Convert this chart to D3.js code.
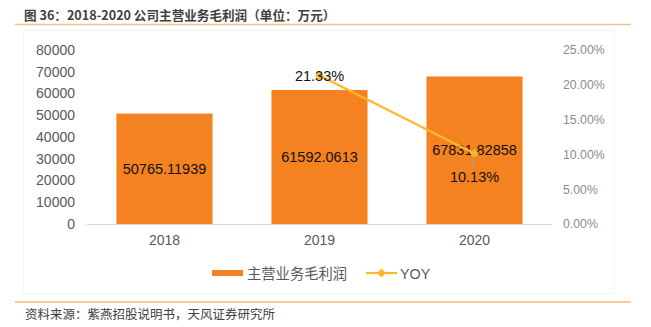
<!DOCTYPE html>
<html><head><meta charset="utf-8">
<script src="https://cdn.jsdelivr.net/npm/d3@7"></script>
<style>body{margin:0;background:#fff}svg{display:block}</style>
</head><body><svg id="c" width="651" height="327"></svg>
<script>
const categories = ["2018", "2019", "2020"];
const grossProfit = [50765.11939, 61592.0613, 67831.82858];
const grossLabels = ["50765.11939", "61592.0613", "67831.82858"];
const yoyCats = ["2019", "2020"];
const yoyValues = [0.2133, 0.1013];
const yoyLabels = ["21.33%", "10.13%"];
const leftTicks = [0, 10000, 20000, 30000, 40000, 50000, 60000, 70000, 80000];
const rightTicks = [0, 0.05, 0.10, 0.15, 0.20, 0.25];
const titleText = "图 36：2018-2020 公司主营业务毛利润（单位：万元）";
const sourceText = "资料来源：紫燕招股说明书，天风证券研究所";
const legendNames = ["主营业务毛利润", "YOY"];

const svg = d3.select("#c");
const font = "'Liberation Sans', Arial, sans-serif";
const cjk = "'Noto Sans CJK SC', sans-serif";

// title
svg.append("text").attr("x", 24).attr("y", 19.5).attr("font-family", cjk).attr("font-size", 12.6)
  .attr("font-weight", "bold").attr("fill", "#404040").text(titleText);
svg.append("line").attr("x1", 15).attr("x2", 631).attr("y1", 24.5).attr("y2", 24.5)
  .attr("stroke", "#fbc08a").attr("stroke-width", 1.5);

// faint chart area border
svg.append("rect").attr("x", 23.5).attr("y", 30.5).attr("width", 591).attr("height", 263)
  .attr("fill", "none").attr("stroke", "#f4f4f4").attr("stroke-width", 1);

const x = d3.scaleBand().domain(categories).range([87, 552]).paddingInner(0.38).paddingOuter(0.19);
const y = d3.scaleLinear().domain([0, 80000]).range([224, 50]);
const y2 = d3.scaleLinear().domain([0, 0.25]).range([224, 50]);

// left axis
const la = svg.append("g").attr("transform", "translate(75,0)")
  .call(d3.axisLeft(y).tickValues(leftTicks).tickSize(0).tickPadding(0).tickFormat(d3.format("d")));
la.select(".domain").remove();
la.selectAll("text").attr("font-family", font).attr("font-size", 14).attr("fill", "#595959");

// right axis
const ra = svg.append("g").attr("transform", "translate(563,0)")
  .call(d3.axisRight(y2).tickValues(rightTicks).tickSize(0).tickPadding(0).tickFormat(d3.format(".2%")));
ra.select(".domain").remove();
ra.selectAll("text").attr("font-family", font).attr("font-size", 12.3).attr("fill", "#8c8c8c");

// bars
svg.selectAll("rect.bar").data(categories).join("rect").attr("class", "bar")
  .attr("x", d => x(d)).attr("width", x.bandwidth())
  .attr("y", (d, i) => y(grossProfit[i])).attr("height", (d, i) => y(0) - y(grossProfit[i]))
  .attr("fill", "#f58220");

// baseline
svg.append("line").attr("x1", 87).attr("x2", 552).attr("y1", 224.5).attr("y2", 224.5)
  .attr("stroke", "#d9d9d9").attr("stroke-width", 1);

// x axis labels
const xa = svg.append("g").attr("transform", "translate(0,224)")
  .call(d3.axisBottom(x).tickSize(0).tickPadding(11));
xa.select(".domain").remove();
xa.selectAll("text").attr("font-family", font).attr("font-size", 14).attr("fill", "#595959");

// bar labels
svg.selectAll("text.bl").data(categories).join("text").attr("class", "bl")
  .attr("x", d => x(d) + x.bandwidth() / 2)
  .attr("y", (d, i) => (y(grossProfit[i]) + y(0)) / 2 + 5)
  .attr("text-anchor", "middle").attr("font-family", font).attr("font-size", 14.5).attr("fill", "#111")
  .text((d, i) => grossLabels[i]);

// YOY line
const cx = d => x(d) + x.bandwidth() / 2;
const pts = yoyCats.map((c, i) => [cx(c), y2(yoyValues[i])]);
svg.append("path").attr("d", d3.line()(pts)).attr("fill", "none").attr("stroke", "#fbb829").attr("stroke-width", 2.2);
svg.selectAll("path.mk").data(pts).join("path").attr("class", "mk")
  .attr("transform", p => `translate(${p[0]},${p[1]})`)
  .attr("d", d3.symbol(d3.symbolDiamond2, 50)).attr("fill", "#fbb829");

// leader line for 2020 label
svg.append("line").attr("x1", pts[1][0]).attr("x2", pts[1][0] - 1.5).attr("y1", pts[1][1] + 2).attr("y2", pts[1][1] + 13)
  .attr("stroke", "#a6a6a6").attr("stroke-width", 1);

// YOY labels
const yoyLabelPos = [[0, 5], [0, 29]];
svg.selectAll("text.yl").data(pts).join("text").attr("class", "yl")
  .attr("x", p => p[0]).attr("y", (p, i) => p[1] + yoyLabelPos[i][1])
  .attr("text-anchor", "middle").attr("font-family", font).attr("font-size", 14.5).attr("fill", "#111")
  .text((p, i) => yoyLabels[i]);

// legend
const lg = svg.append("g");
lg.append("rect").attr("x", 212).attr("y", 270).attr("width", 31).attr("height", 6).attr("fill", "#f58220");
lg.append("text").attr("x", 247).attr("y", 278.5).attr("font-family", cjk).attr("font-size", 14.3)
  .attr("fill", "#595959").text(legendNames[0]);
lg.append("line").attr("x1", 366).attr("x2", 397).attr("y1", 273).attr("y2", 273).attr("stroke", "#fbb829").attr("stroke-width", 2.2);
lg.append("path").attr("transform", "translate(381.5,273)").attr("d", d3.symbol(d3.symbolDiamond2, 50)).attr("fill", "#fbb829");
lg.append("text").attr("x", 400).attr("y", 278.5).attr("font-family", font).attr("font-size", 14.3)
  .attr("fill", "#595959").text(legendNames[1]);

// bottom line & source
svg.append("line").attr("x1", 15).attr("x2", 631).attr("y1", 302).attr("y2", 302)
  .attr("stroke", "#f5923a").attr("stroke-width", 1.2);
svg.append("text").attr("x", 25).attr("y", 319).attr("font-family", cjk).attr("font-size", 12.5)
  .attr("fill", "#404040").text(sourceText);
</script></body></html>
